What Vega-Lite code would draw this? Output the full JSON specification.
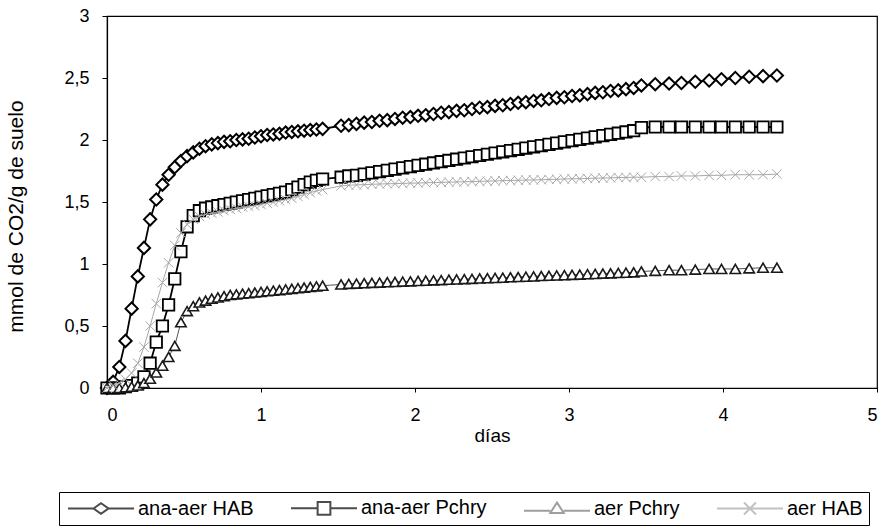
{
  "$schema": "https://vega.github.io/schema/vega-lite/v6.json",
  "width": 770,
  "height": 372,
  "autosize": {"type": "none"},
  "padding": {"left": 107, "top": 16, "right": 4, "bottom": 138},
  "background": "white",
  "config": {
    "font": "Liberation Sans",
    "view": {"stroke": "black", "strokeWidth": 1.2},
    "axis": {
      "grid": false,
      "domainColor": "black",
      "domainWidth": 1.2,
      "tickColor": "black",
      "labelColor": "black",
      "titleColor": "black",
      "labelFont": "Liberation Sans",
      "titleFont": "Liberation Sans",
      "labelFontSize": 18,
      "titleFontSize": 19,
      "titleFontWeight": "normal"
    }
  },
  "data": {
    "values": [
      {"t": 0, "A": 0, "B": 0, "C": 0, "D": 0},
      {"t": 0.04, "A": 0.05, "B": 0, "C": 0, "D": 0.02},
      {"t": 0.08, "A": 0.17, "B": 0, "C": 0, "D": 0.04},
      {"t": 0.12, "A": 0.38, "B": 0.01, "C": 0.005, "D": 0.07},
      {"t": 0.16, "A": 0.64, "B": 0.02, "C": 0.01, "D": 0.12},
      {"t": 0.20, "A": 0.90, "B": 0.04, "C": 0.02, "D": 0.20},
      {"t": 0.24, "A": 1.13, "B": 0.09, "C": 0.04, "D": 0.33},
      {"t": 0.28, "A": 1.36, "B": 0.20, "C": 0.075, "D": 0.50},
      {"t": 0.32, "A": 1.52, "B": 0.37, "C": 0.125, "D": 0.68},
      {"t": 0.36, "A": 1.64, "B": 0.50, "C": 0.18, "D": 0.85},
      {"t": 0.40, "A": 1.72, "B": 0.67, "C": 0.25, "D": 1.01},
      {"t": 0.44, "A": 1.78, "B": 0.88, "C": 0.34, "D": 1.15},
      {"t": 0.48, "A": 1.83, "B": 1.10, "C": 0.53, "D": 1.25},
      {"t": 0.52, "A": 1.87, "B": 1.30, "C": 0.62, "D": 1.32},
      {"t": 0.56, "A": 1.90, "B": 1.39, "C": 0.66, "D": 1.36},
      {"t": 0.60, "A": 1.93, "B": 1.43, "C": 0.69, "D": 1.385},
      {"t": 0.64, "A": 1.95, "B": 1.45, "C": 0.705, "D": 1.40},
      {"t": 0.68, "A": 1.965, "B": 1.46, "C": 0.72, "D": 1.41},
      {"t": 0.72, "A": 1.975, "B": 1.47, "C": 0.73, "D": 1.42},
      {"t": 0.76, "A": 1.985, "B": 1.48, "C": 0.74, "D": 1.43},
      {"t": 0.80, "A": 1.99, "B": 1.49, "C": 0.75, "D": 1.44},
      {"t": 0.84, "A": 2.00, "B": 1.50, "C": 0.755, "D": 1.45},
      {"t": 0.88, "A": 2.005, "B": 1.51, "C": 0.76, "D": 1.46},
      {"t": 0.92, "A": 2.01, "B": 1.52, "C": 0.765, "D": 1.465},
      {"t": 0.96, "A": 2.02, "B": 1.53, "C": 0.77, "D": 1.47},
      {"t": 1.00, "A": 2.03, "B": 1.54, "C": 0.775, "D": 1.48},
      {"t": 1.04, "A": 2.04, "B": 1.55, "C": 0.78, "D": 1.49},
      {"t": 1.08, "A": 2.045, "B": 1.56, "C": 0.785, "D": 1.50},
      {"t": 1.12, "A": 2.05, "B": 1.57, "C": 0.79, "D": 1.51},
      {"t": 1.16, "A": 2.06, "B": 1.58, "C": 0.795, "D": 1.52},
      {"t": 1.20, "A": 2.065, "B": 1.60, "C": 0.80, "D": 1.53},
      {"t": 1.24, "A": 2.07, "B": 1.62, "C": 0.805, "D": 1.545},
      {"t": 1.28, "A": 2.075, "B": 1.64, "C": 0.81, "D": 1.56},
      {"t": 1.32, "A": 2.08, "B": 1.66, "C": 0.815, "D": 1.575},
      {"t": 1.36, "A": 2.085, "B": 1.675, "C": 0.82, "D": 1.59},
      {"t": 1.40, "A": 2.09, "B": 1.685, "C": 0.825, "D": 1.60},
      {"t": 1.52, "A": 2.115, "B": 1.70, "C": 0.835, "D": 1.63},
      {"t": 1.57, "A": 2.12, "B": 1.71, "C": 0.84, "D": 1.635},
      {"t": 1.62, "A": 2.13, "B": 1.715, "C": 0.842, "D": 1.638},
      {"t": 1.67, "A": 2.14, "B": 1.725, "C": 0.845, "D": 1.64},
      {"t": 1.72, "A": 2.145, "B": 1.735, "C": 0.848, "D": 1.643},
      {"t": 1.77, "A": 2.155, "B": 1.745, "C": 0.85, "D": 1.645},
      {"t": 1.82, "A": 2.16, "B": 1.755, "C": 0.853, "D": 1.647},
      {"t": 1.87, "A": 2.17, "B": 1.765, "C": 0.855, "D": 1.648},
      {"t": 1.92, "A": 2.18, "B": 1.775, "C": 0.858, "D": 1.65},
      {"t": 1.97, "A": 2.185, "B": 1.785, "C": 0.86, "D": 1.652},
      {"t": 2.02, "A": 2.195, "B": 1.795, "C": 0.863, "D": 1.653},
      {"t": 2.07, "A": 2.20, "B": 1.805, "C": 0.865, "D": 1.655},
      {"t": 2.12, "A": 2.21, "B": 1.815, "C": 0.868, "D": 1.657},
      {"t": 2.17, "A": 2.22, "B": 1.825, "C": 0.87, "D": 1.658},
      {"t": 2.22, "A": 2.225, "B": 1.835, "C": 0.873, "D": 1.66},
      {"t": 2.27, "A": 2.235, "B": 1.845, "C": 0.875, "D": 1.662},
      {"t": 2.32, "A": 2.24, "B": 1.855, "C": 0.878, "D": 1.663},
      {"t": 2.37, "A": 2.25, "B": 1.865, "C": 0.88, "D": 1.665},
      {"t": 2.42, "A": 2.26, "B": 1.875, "C": 0.883, "D": 1.667},
      {"t": 2.47, "A": 2.265, "B": 1.885, "C": 0.885, "D": 1.668},
      {"t": 2.52, "A": 2.275, "B": 1.895, "C": 0.888, "D": 1.67},
      {"t": 2.57, "A": 2.28, "B": 1.905, "C": 0.89, "D": 1.672},
      {"t": 2.62, "A": 2.29, "B": 1.915, "C": 0.893, "D": 1.673},
      {"t": 2.67, "A": 2.30, "B": 1.925, "C": 0.895, "D": 1.675},
      {"t": 2.72, "A": 2.305, "B": 1.935, "C": 0.898, "D": 1.677},
      {"t": 2.77, "A": 2.315, "B": 1.945, "C": 0.90, "D": 1.678},
      {"t": 2.82, "A": 2.32, "B": 1.955, "C": 0.903, "D": 1.68},
      {"t": 2.87, "A": 2.33, "B": 1.965, "C": 0.905, "D": 1.682},
      {"t": 2.92, "A": 2.34, "B": 1.975, "C": 0.908, "D": 1.683},
      {"t": 2.97, "A": 2.345, "B": 1.985, "C": 0.91, "D": 1.685},
      {"t": 3.02, "A": 2.355, "B": 1.995, "C": 0.913, "D": 1.687},
      {"t": 3.07, "A": 2.36, "B": 2.005, "C": 0.915, "D": 1.688},
      {"t": 3.12, "A": 2.37, "B": 2.015, "C": 0.918, "D": 1.69},
      {"t": 3.17, "A": 2.38, "B": 2.025, "C": 0.92, "D": 1.692},
      {"t": 3.22, "A": 2.385, "B": 2.035, "C": 0.923, "D": 1.693},
      {"t": 3.27, "A": 2.395, "B": 2.045, "C": 0.925, "D": 1.695},
      {"t": 3.32, "A": 2.40, "B": 2.055, "C": 0.928, "D": 1.697},
      {"t": 3.37, "A": 2.41, "B": 2.065, "C": 0.93, "D": 1.698},
      {"t": 3.42, "A": 2.42, "B": 2.075, "C": 0.933, "D": 1.70},
      {"t": 3.47, "A": 2.44, "B": 2.10, "C": 0.94, "D": 1.70},
      {"t": 3.56, "A": 2.45, "B": 2.105, "C": 0.945, "D": 1.705},
      {"t": 3.65, "A": 2.455, "B": 2.105, "C": 0.95, "D": 1.705},
      {"t": 3.73, "A": 2.46, "B": 2.105, "C": 0.95, "D": 1.71},
      {"t": 3.82, "A": 2.47, "B": 2.105, "C": 0.955, "D": 1.71},
      {"t": 3.91, "A": 2.48, "B": 2.105, "C": 0.96, "D": 1.715},
      {"t": 3.99, "A": 2.49, "B": 2.105, "C": 0.96, "D": 1.715},
      {"t": 4.08, "A": 2.50, "B": 2.105, "C": 0.96, "D": 1.72},
      {"t": 4.17, "A": 2.51, "B": 2.105, "C": 0.965, "D": 1.72},
      {"t": 4.26, "A": 2.515, "B": 2.105, "C": 0.97, "D": 1.72},
      {"t": 4.35, "A": 2.52, "B": 2.105, "C": 0.97, "D": 1.725}
    ]
  },
  "encoding": {
    "x": {
      "field": "t",
      "type": "quantitative",
      "scale": {"domain": [0, 5], "nice": false},
      "axis": {
        "values": [0, 1, 2, 3, 4, 5],
        "format": "d",
        "title": "días",
        "tickSize": 4,
        "labelPadding": 14,
        "titlePadding": 2
      }
    }
  },
  "layer": [
    {
      "transform": [{"filter": "false"}],
      "mark": {"type": "point", "filled": false, "strokeWidth": 2},
      "encoding": {
        "y": {
          "field": "A",
          "type": "quantitative",
          "title": "mmol de CO2/g de suelo",
          "scale": {"domain": [0, 3], "nice": false},
          "axis": {
            "values": [0, 0.5, 1, 1.5, 2, 2.5, 3],
            "labelExpr": "replace(toString(datum.value), '.', ',')",
            "tickSize": 5,
            "labelPadding": 13,
            "titleX": -81,
            "titleY": 200,
            "titleFontSize": 21
          }
        },
        "color": {
          "datum": "ana-aer HAB",
          "scale": {
            "domain": ["ana-aer HAB", "ana-aer Pchry", "aer Pchry", "aer HAB"],
            "range": ["#000000", "#000000", "#777777", "#a8a8a8"]
          },
          "legend": {
            "orient": "none",
            "legendX": -48,
            "legendY": 476,
            "direction": "horizontal",
            "columns": 4,
            "title": null,
            "padding": 6,
            "strokeColor": "black",
            "symbolSize": 225,
            "symbolStrokeWidth": 2,
            "symbolOffset": 26,
            "labelOffset": 27,
            "columnPadding": 33,
            "labelFont": "Liberation Sans",
            "labelFontSize": 20,
            "labelColor": "black",
            "labelLimit": 300,
            "encode": {
              "symbols": {
                "update": {
                  "size": {"value": 225},
                  "fill": {"value": "white"},
                  "fillOpacity": {"value": 1},
                  "opacity": {"value": 1},
                  "stroke": {"signal": "datum.value === 'aer Pchry' ? '#777777' : datum.value === 'aer HAB' ? '#a8a8a8' : '#000000'"},
                  "strokeWidth": {"signal": "datum.value === 'aer Pchry' || datum.value === 'aer HAB' ? 1.2 : 2.2"}
                }
              }
            }
          }
        },
        "shape": {
          "datum": "ana-aer HAB",
          "scale": {
            "domain": ["ana-aer HAB", "ana-aer Pchry", "aer Pchry", "aer HAB"],
            "range": [
              "M-4.4,0H-1M1,0H4.4M-1,0L0,-0.7L1,0L0,0.7Z",
              "M-4.4,0H-0.85M0.85,0H4.4M-0.85,-0.85H0.85V0.85H-0.85Z",
              "M-4.4,0.3H-0.9M0.9,0.3H4.4M0,-0.8L0.9,0.6H-0.9Z",
              "M-4.4,0H4.4M-0.8,-0.8L0.8,0.8M0.8,-0.8L-0.8,0.8"
            ]
          },
          "legend": null
        }
      }
    },
    {
      "mark": {"type": "line", "color": "black", "strokeWidth": 1.8},
      "encoding": {
        "y": {"field": "A", "type": "quantitative", "title": "mmol de CO2/g de suelo", "scale": {"domain": [0, 3], "nice": false}}
      }
    },
    {
      "mark": {"type": "point", "shape": "diamond", "filled": false, "fill": "white", "fillOpacity": 1, "opacity": 1, "color": "black", "strokeWidth": 2, "size": 150},
      "encoding": {
        "y": {"field": "A", "type": "quantitative", "title": "mmol de CO2/g de suelo", "scale": {"domain": [0, 3], "nice": false}}
      }
    },
    {
      "mark": {"type": "line", "color": "black", "strokeWidth": 1.8},
      "encoding": {
        "y": {"field": "B", "type": "quantitative", "title": "mmol de CO2/g de suelo", "scale": {"domain": [0, 3], "nice": false}}
      }
    },
    {
      "mark": {"type": "point", "shape": "square", "filled": false, "fill": "white", "fillOpacity": 1, "opacity": 1, "color": "black", "strokeWidth": 1.8, "size": 130},
      "encoding": {
        "y": {"field": "B", "type": "quantitative", "title": "mmol de CO2/g de suelo", "scale": {"domain": [0, 3], "nice": false}}
      }
    },
    {
      "mark": {"type": "line", "color": "#555555", "strokeWidth": 1},
      "encoding": {
        "y": {"field": "C", "type": "quantitative", "title": "mmol de CO2/g de suelo", "scale": {"domain": [0, 3], "nice": false}}
      }
    },
    {
      "mark": {"type": "point", "shape": "triangle-up", "filled": false, "fill": "white", "fillOpacity": 1, "opacity": 1, "color": "#1a1a1a", "strokeWidth": 1.6, "size": 110},
      "encoding": {
        "y": {"field": "C", "type": "quantitative", "title": "mmol de CO2/g de suelo", "scale": {"domain": [0, 3], "nice": false}}
      }
    },
    {
      "mark": {"type": "line", "color": "#a8a8a8", "strokeWidth": 1},
      "encoding": {
        "y": {"field": "D", "type": "quantitative", "title": "mmol de CO2/g de suelo", "scale": {"domain": [0, 3], "nice": false}}
      }
    },
    {
      "mark": {"type": "point", "shape": "M-1,-1L1,1M1,-1L-1,1", "filled": false, "opacity": 1, "color": "#a8a8a8", "strokeWidth": 1, "size": 90},
      "encoding": {
        "y": {"field": "D", "type": "quantitative", "title": "mmol de CO2/g de suelo", "scale": {"domain": [0, 3], "nice": false}}
      }
    }
  ]
}
